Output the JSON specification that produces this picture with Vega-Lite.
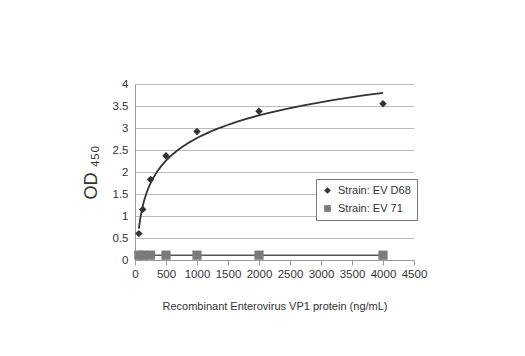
{
  "$schema": "https://vega.github.io/schema/vega-lite/v6.json",
  "width": 279,
  "height": 176,
  "autosize": "none",
  "padding": {"left": 135, "top": 84, "right": 111, "bottom": 96},
  "background": "white",
  "config": {"font": "Liberation Sans", "view": {"stroke": null}},
  "data": {
    "values": [
      {"strain": "Strain: EV D68", "conc": 62.5, "od": 0.6},
      {"strain": "Strain: EV D68", "conc": 125, "od": 1.15},
      {"strain": "Strain: EV D68", "conc": 250, "od": 1.83},
      {"strain": "Strain: EV D68", "conc": 500, "od": 2.37},
      {"strain": "Strain: EV D68", "conc": 1000, "od": 2.92},
      {"strain": "Strain: EV D68", "conc": 2000, "od": 3.38},
      {"strain": "Strain: EV D68", "conc": 4000, "od": 3.55},
      {"strain": "Strain: EV 71", "conc": 62.5, "od": 0.11},
      {"strain": "Strain: EV 71", "conc": 125, "od": 0.11},
      {"strain": "Strain: EV 71", "conc": 250, "od": 0.11},
      {"strain": "Strain: EV 71", "conc": 500, "od": 0.11},
      {"strain": "Strain: EV 71", "conc": 1000, "od": 0.11},
      {"strain": "Strain: EV 71", "conc": 2000, "od": 0.11},
      {"strain": "Strain: EV 71", "conc": 4000, "od": 0.11}
    ]
  },
  "encoding": {
    "x": {
      "field": "conc",
      "type": "quantitative",
      "scale": {"domain": [0, 4500], "nice": false},
      "axis": {
        "title": "Recombinant Enterovirus VP1 protein (ng/mL)",
        "values": [0, 500, 1000, 1500, 2000, 2500, 3000, 3500, 4000, 4500],
        "format": "d",
        "labelOverlap": false,
        "labelFlush": false,
        "grid": false,
        "domainColor": "#999",
        "tickColor": "#999",
        "tickSize": 5,
        "labelFontSize": 11.5,
        "labelColor": "#333",
        "labelPadding": 3,
        "titleFontSize": 11,
        "titleFontWeight": "normal",
        "titleColor": "#333",
        "titlePadding": 21
      }
    },
    "y": {
      "field": "od",
      "type": "quantitative",
      "scale": {"domain": [0, 4], "nice": false},
      "axis": {
        "title": "OD ₄₅₀",
        "values": [0, 0.5, 1, 1.5, 2, 2.5, 3, 3.5, 4],
        "format": "~g",
        "labelOverlap": false,
        "labelFlush": false,
        "grid": true,
        "gridColor": "#bbb",
        "domainColor": "#999",
        "ticks": false,
        "labelFontSize": 11.5,
        "labelColor": "#333",
        "labelPadding": 7,
        "titleFontSize": 18,
        "titleFontWeight": "normal",
        "titleColor": "#333",
        "titlePadding": 12
      }
    }
  },
  "layer": [
    {
      "transform": [
        {"filter": "datum.strain == 'Strain: EV D68'"},
        {"regression": "od", "on": "conc", "method": "log"}
      ],
      "mark": {"type": "line", "color": "#333", "strokeWidth": 1.8}
    },
    {
      "transform": [{"filter": "datum.strain == 'Strain: EV 71'"}],
      "mark": {"type": "line", "color": "#555", "strokeWidth": 1.5}
    },
    {
      "mark": {"type": "point", "filled": true, "opacity": 1},
      "encoding": {
        "shape": {
          "field": "strain",
          "type": "nominal",
          "scale": {"domain": ["Strain: EV D68", "Strain: EV 71"], "range": ["diamond", "square"]},
          "legend": {
            "title": null,
            "orient": "none",
            "legendX": 181,
            "legendY": 95,
            "strokeColor": "#777",
            "fillColor": "white",
            "padding": 6,
            "labelFontSize": 11,
            "labelColor": "#333",
            "labelOffset": 5,
            "symbolSize": 45,
            "rowPadding": 6
          }
        },
        "color": {
          "field": "strain",
          "type": "nominal",
          "scale": {"domain": ["Strain: EV D68", "Strain: EV 71"], "range": ["#333333", "#7a7a7a"]}
        },
        "size": {
          "condition": {"test": "datum.strain == 'Strain: EV 71'", "value": 85},
          "value": 55
        }
      }
    }
  ]
}
